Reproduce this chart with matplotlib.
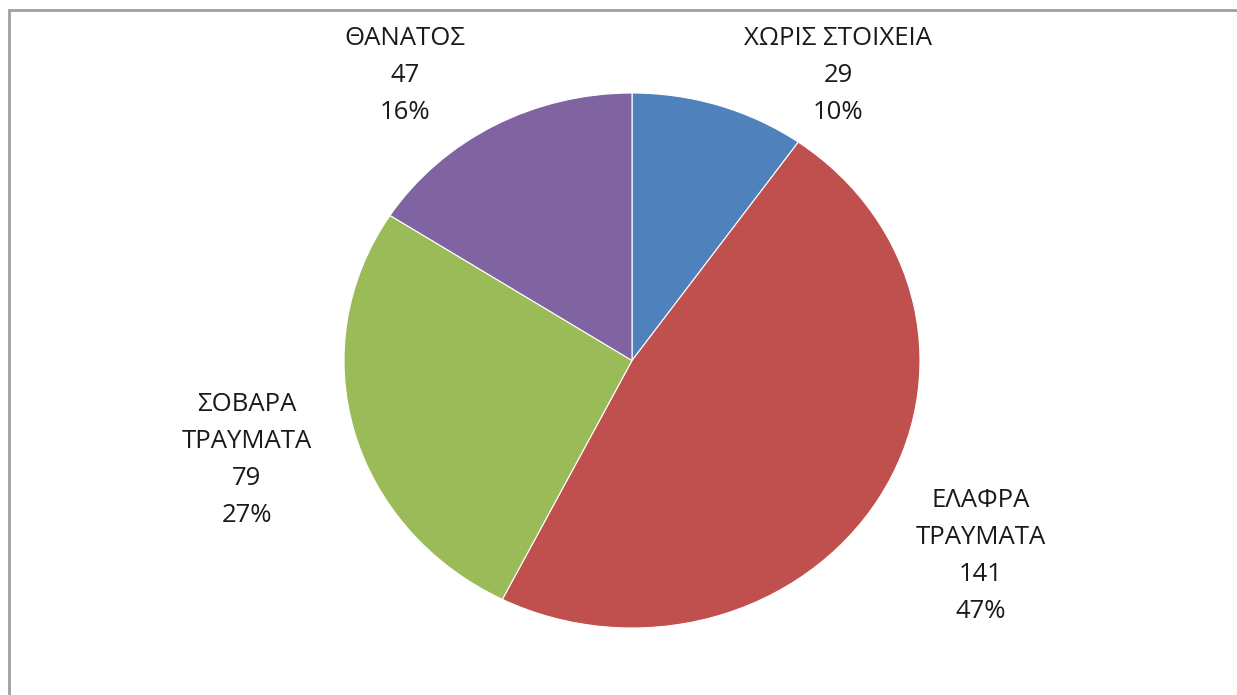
import matplotlib
matplotlib.use("Agg")
import matplotlib.pyplot as plt
from matplotlib.patches import Rectangle

categories = ["ΧΩΡΙΣ ΣΤΟΙΧΕΙΑ", "ΕΛΑΦΡΑ\nΤΡΑΥΜΑΤΑ", "ΣΟΒΑΡΑ\nΤΡΑΥΜΑΤΑ", "ΘΑΝΑΤΟΣ"]
values = [29, 141, 79, 47]
percent_labels = ["10%", "47%", "27%", "16%"]
colors = ["#4F81BD", "#C0504D", "#9BBB59", "#8064A2"]
label_pos = [(0.716, 1.066), (1.212, -0.731), (-1.337, -0.372), (-0.788, 1.066)]

W, H = 1237, 695
fig = plt.figure(figsize=(W / 100, H / 100), dpi=100)
fig.patch.set_facecolor("white")

# outer frame
fig.add_artist(Rectangle((9 / W, -0.1), 1.2, (H - 10) / H + 0.1, transform=fig.transFigure,
                         fill=False, edgecolor="#A0A0A0", linewidth=2))

cx, cy, rx, ry = 632, 360.5, 288, 267.5
ax = fig.add_axes([(cx - rx) / W, (H - cy - ry) / H, 2 * rx / W, 2 * ry / H])
wedges, _ = ax.pie(values, colors=colors, startangle=90, counterclock=False,
                   wedgeprops=dict(edgecolor="white", linewidth=0.8))
ax.set_aspect("auto")
ax.set_xlim(-1, 1)
ax.set_ylim(-1, 1)
ax.axis("off")

for cat, v, pct, (x, y) in zip(categories, values, percent_labels, label_pos):
    ax.text(x, y, f"{cat}\n{v}\n{pct}", ha="center", va="center", fontsize=18.5,
            family=["Open Sans", "DejaVu Sans"], color="#1a1a1a", linespacing=1.64,
            clip_on=False)

fig.savefig("out.png", dpi=100)
